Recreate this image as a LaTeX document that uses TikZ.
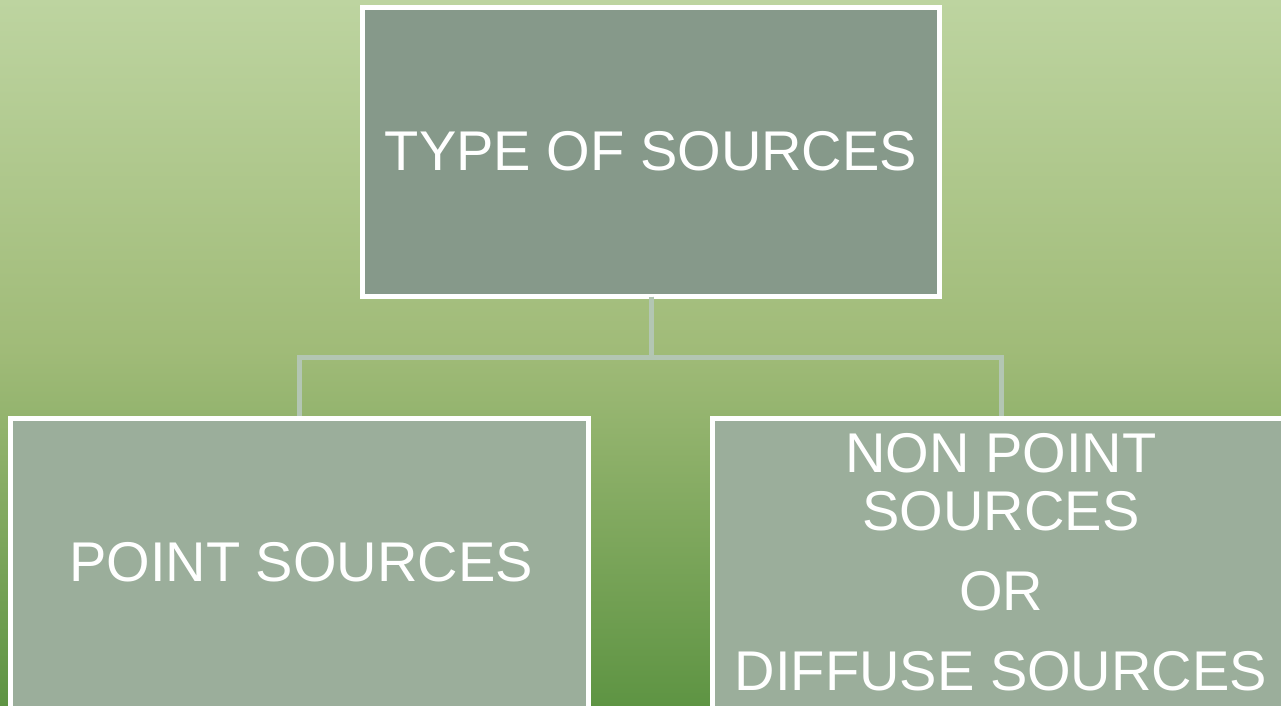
\documentclass[tikz,border=0pt]{standalone}
\usepackage{fontspec}
\setmainfont{Liberation Sans}
\definecolor{bgtop}{HTML}{BDD4A0}
\definecolor{bgmid}{HTML}{A0BB78}
\definecolor{bgbot}{HTML}{5E9443}
\definecolor{topfill}{HTML}{86998A}
\definecolor{lowfill}{HTML}{9BAE9B}
\definecolor{connc}{HTML}{B3C6B3}
\tikzset{
  box/.style={draw=white, line width=5pt, anchor=north west, inner sep=0pt, outer sep=0pt},
  conn/.style={draw=connc, line width=5pt, shorten >=2.5pt},
  lbl/.style={text=white, anchor=base, inner sep=0pt, font=\fontsize{56}{58}\selectfont}
}
\begin{document}
\begin{tikzpicture}[x=1pt,y=-1pt]
\useasboundingbox (0,0) rectangle (1281,706);
\clip (0,0) rectangle (1281,706);
\shade[top color=bgtop, bottom color=bgmid] (0,0) rectangle (1281,351);
\shade[top color=bgmid, bottom color=bgbot] (0,350) rectangle (1281,706);
\node[box, fill=topfill, minimum width=577pt, minimum height=289pt] (top) at (362.5,7.5) {};
\node[box, fill=lowfill, minimum width=578pt, minimum height=320pt] (left) at (10.5,418.5) {};
\node[box, fill=lowfill, minimum width=578pt, minimum height=320pt] (right) at (712.5,418.5) {};
\coordinate (split) at (651,357.5);
\draw[conn] (top.south) -- (split) -| (left.north);
\draw[conn] (top.south) -- (split) -| (right.north);
\node[lbl] (t1) at (651,170) {TYPE OF SOURCES};
\node[lbl] (l1) at (301,581) {POINT SOURCES};
\node[lbl] (r1) at (1001,472) {NON POINT};
\node[lbl] (r2) at (1001,530) {SOURCES};
\node[lbl] (r3) at (1001,610) {OR};
\node[lbl] (r4) at (1001,690) {DIFFUSE SOURCES};
\end{tikzpicture}
\end{document}
